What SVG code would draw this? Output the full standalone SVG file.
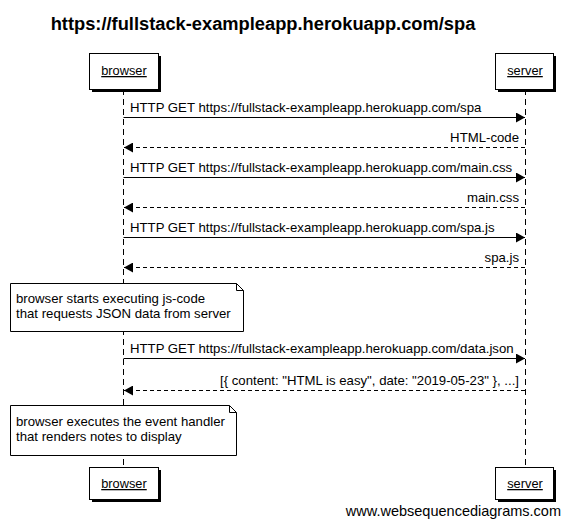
<svg xmlns="http://www.w3.org/2000/svg" width="569" height="524" viewBox="0 0 569 524">
<style>
text{font-family:"Liberation Sans",Arial,sans-serif;fill:#000}
.t{font-size:18.3px;font-weight:bold}
.m{font-size:13.2px}
.p{font-size:12.8px;text-decoration:underline}
.box{fill:#fff;stroke:#000;stroke-width:1}
.sh{fill:#000}
.life{stroke:#000;stroke-width:1;stroke-dasharray:6,4}
.req{stroke:#000;stroke-width:1;fill:none}
.ret{stroke:#000;stroke-width:1;fill:none;stroke-dasharray:4,3}
.w{font-size:14.5px}
</style>
<defs>
<marker id="ah" markerWidth="9" markerHeight="10" refX="9" refY="5" orient="auto" markerUnits="userSpaceOnUse">
<path d="M0,0 L9,5 L0,10 Z" fill="#000"/>
</marker>
</defs>
<rect width="569" height="524" fill="#fff"/>
<text class="t" x="263" y="30" text-anchor="middle">https://fullstack-exampleapp.herokuapp.com/spa</text>
<g id="lifelines">
<line class="life" x1="123.5" y1="89" x2="123.5" y2="467"/>
<line class="life" x1="525.5" y1="89" x2="525.5" y2="467"/>
</g>
<g id="browser-top">
<rect class="sh" x="92" y="56" width="69" height="36"/>
<rect class="box" x="89.5" y="53.5" width="69" height="36"/>
<text class="p" x="124" y="75" text-anchor="middle">browser</text>
</g>
<g id="server-top">
<rect class="sh" x="498" y="56" width="58" height="36"/>
<rect class="box" x="495.5" y="53.5" width="58" height="36"/>
<text class="p" x="525" y="75" text-anchor="middle">server</text>
</g>
<g id="browser-bottom">
<rect class="sh" x="92" y="470" width="69" height="32"/>
<rect class="box" x="89.5" y="467.5" width="69" height="32"/>
<text class="p" x="124" y="488" text-anchor="middle">browser</text>
</g>
<g id="server-bottom">
<rect class="sh" x="498" y="470" width="58" height="32"/>
<rect class="box" x="495.5" y="467.5" width="58" height="32"/>
<text class="p" x="525" y="488" text-anchor="middle">server</text>
</g>
<g id="connectors">
<line class="req" x1="123.5" y1="117.5" x2="525" y2="117.5" marker-end="url(#ah)"/>
<text class="m" x="130" y="112">HTTP GET https://fullstack-exampleapp.herokuapp.com/spa</text>
<line class="ret" x1="525" y1="147.5" x2="124" y2="147.5" marker-end="url(#ah)"/>
<text class="m" x="519" y="142" text-anchor="end">HTML-code</text>
<line class="req" x1="123.5" y1="177.5" x2="525" y2="177.5" marker-end="url(#ah)"/>
<text class="m" x="130" y="172">HTTP GET https://fullstack-exampleapp.herokuapp.com/main.css</text>
<line class="ret" x1="525" y1="207.5" x2="124" y2="207.5" marker-end="url(#ah)"/>
<text class="m" x="519" y="202" text-anchor="end">main.css</text>
<line class="req" x1="123.5" y1="237.5" x2="525" y2="237.5" marker-end="url(#ah)"/>
<text class="m" x="130" y="232">HTTP GET https://fullstack-exampleapp.herokuapp.com/spa.js</text>
<line class="ret" x1="525" y1="267.5" x2="124" y2="267.5" marker-end="url(#ah)"/>
<text class="m" x="519" y="262" text-anchor="end">spa.js</text>
<line class="req" x1="123.5" y1="358.5" x2="525" y2="358.5" marker-end="url(#ah)"/>
<text class="m" x="130" y="353">HTTP GET https://fullstack-exampleapp.herokuapp.com/data.json</text>
<line class="ret" x1="525" y1="390.5" x2="124" y2="390.5" marker-end="url(#ah)"/>
<text class="m" x="519" y="385" text-anchor="end">[{ content: "HTML is easy", date: "2019-05-23" }, ...]</text>
</g>
<g id="note1">
<path class="box" d="M10.5,283.5 H236.5 L243.5,290.5 V331.5 H10.5 Z"/>
<path d="M236.5,283.5 V290.5 H243.5" fill="none" stroke="#000"/>
<text class="m" x="16" y="303">browser starts executing js-code</text>
<text class="m" x="16" y="318">that requests JSON data from server</text>
</g>
<g id="note2">
<path class="box" d="M10.5,405.5 H229.5 L236.5,412.5 V455.5 H10.5 Z"/>
<path d="M229.5,405.5 V412.5 H236.5" fill="none" stroke="#000"/>
<text class="m" x="16" y="426">browser executes the event handler</text>
<text class="m" x="16" y="441">that renders notes to display</text>
</g>
<text class="w" x="561" y="516" text-anchor="end">www.websequencediagrams.com</text>
</svg>
